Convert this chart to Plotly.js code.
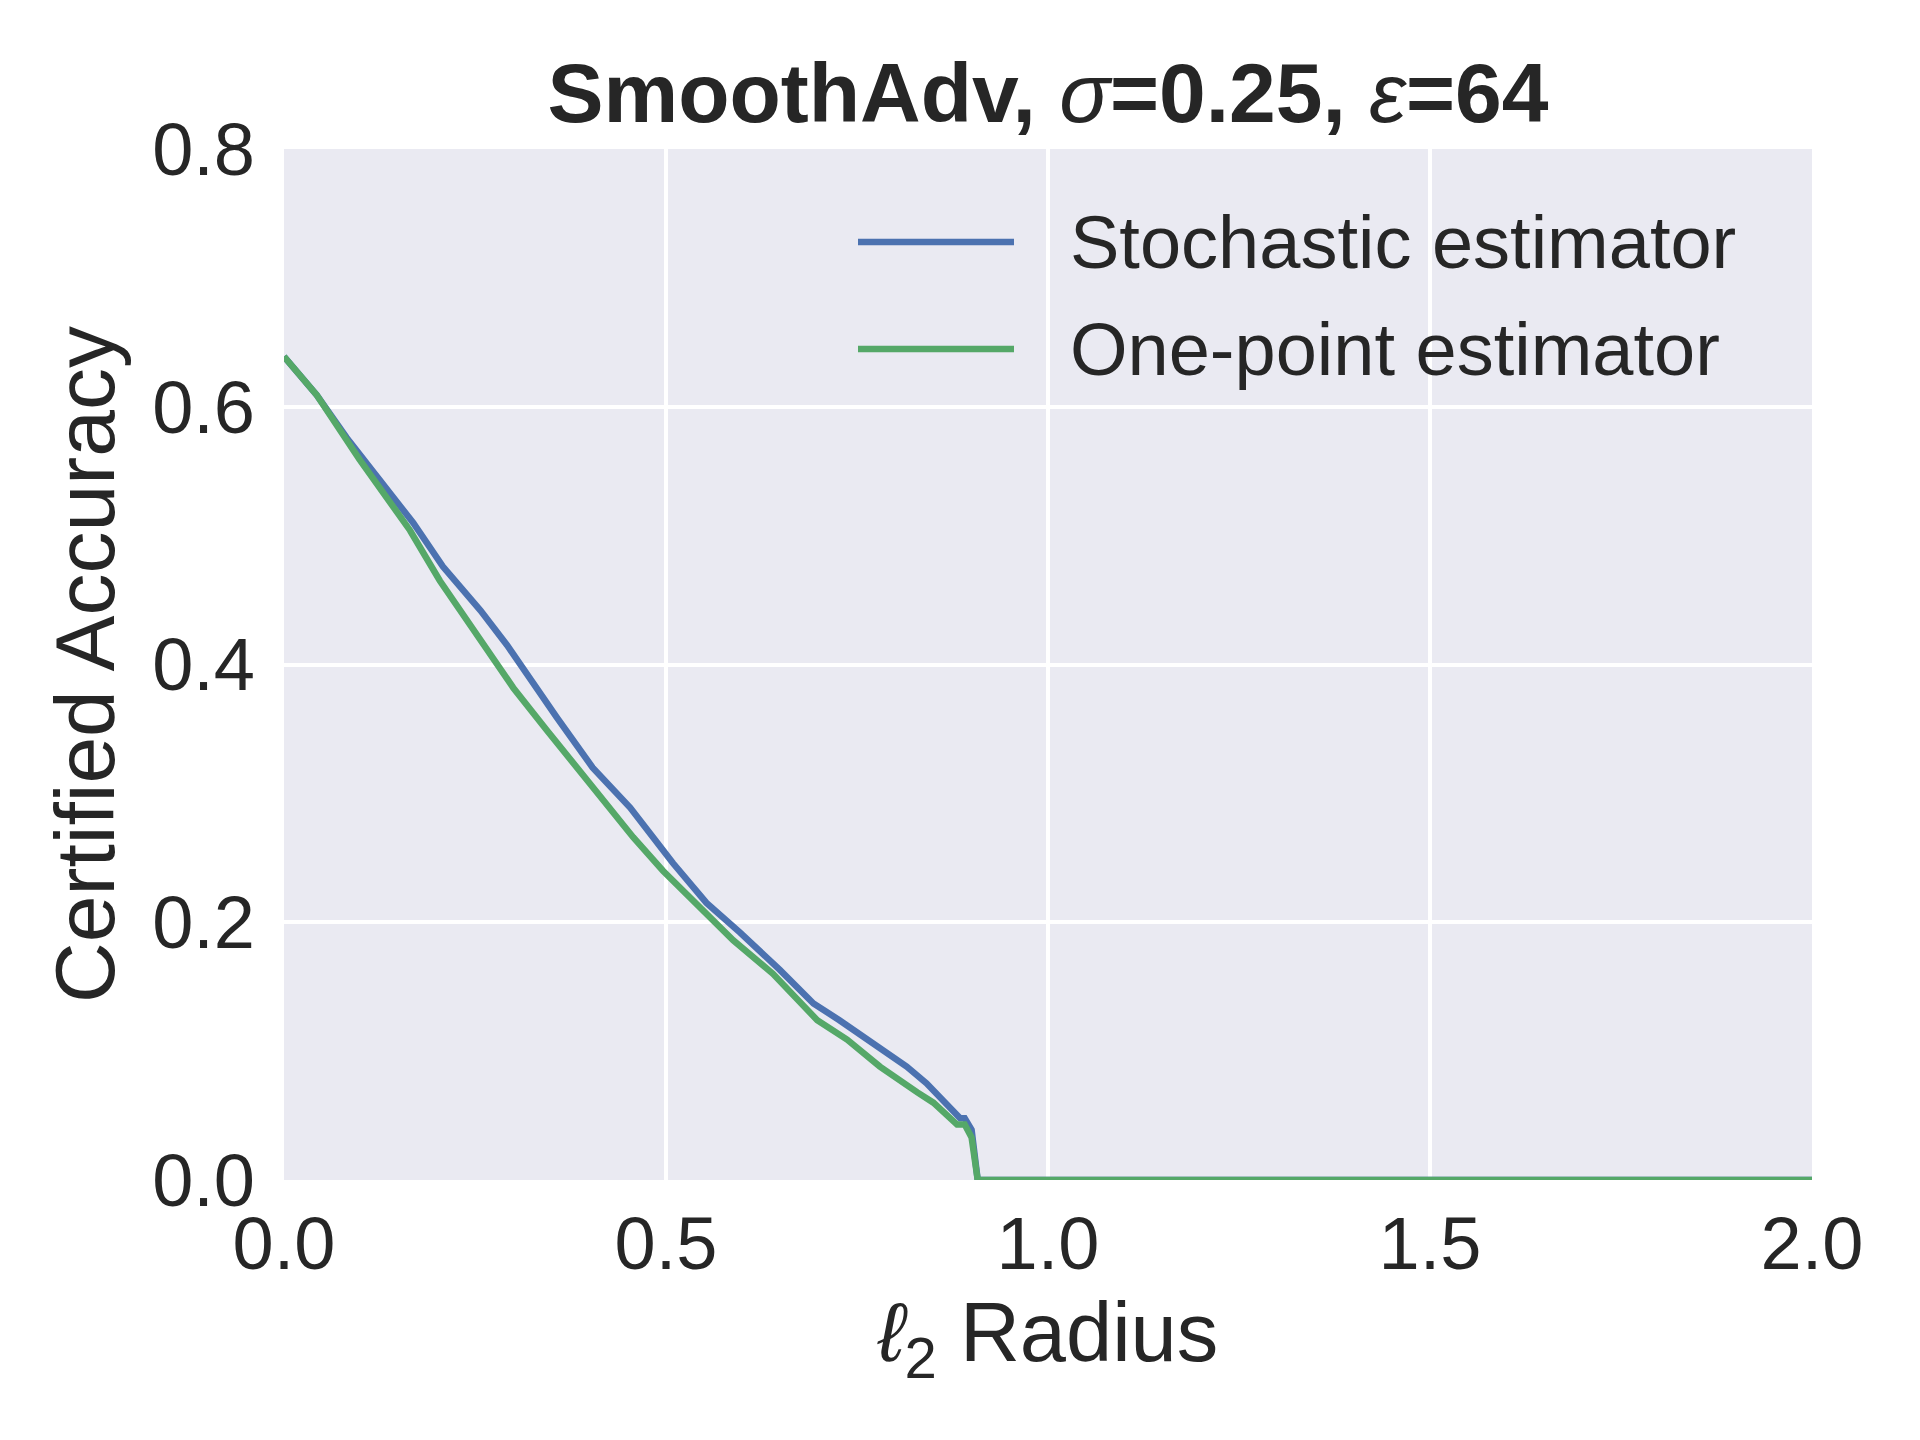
<!DOCTYPE html>
<html>
<head>
<meta charset="utf-8">
<script src="https://cdn.plot.ly/plotly-3.0.1.min.js"></script>
<style>
    body { margin: 0; background: #ffffff; }
    #chart { width: 1920px; height: 1440px; }
</style>
</head>
<body>
<div id="chart"></div>
<script>
// values
const stochName = "Stochastic estimator"
const stochRadius = [0, 0.043, 0.082, 0.108, 0.169, 0.208, 0.257, 0.292, 0.318, 0.357, 0.404, 0.453, 0.483,
    0.509, 0.553, 0.597, 0.649, 0.693, 0.727, 0.771, 0.815, 0.841, 0.867, 0.885, 0.891, 0.900, 0.908, 2.0]
const stochAcc = [0.639, 0.609, 0.576, 0.556, 0.510, 0.476, 0.442, 0.415, 0.392, 0.359, 0.320, 0.289, 0.266,
    0.246, 0.215, 0.192, 0.163, 0.137, 0.124, 0.106, 0.088, 0.075, 0.058, 0.048, 0.048, 0.039, 0, 0]

const onePointName = "One-point estimator"
const onePointRadius = [0, 0.043, 0.099, 0.165, 0.204, 0.257, 0.300, 0.344, 0.397, 0.427, 0.457, 0.496,
    0.553, 0.588, 0.640, 0.671, 0.698, 0.737, 0.780, 0.829, 0.850, 0.881, 0.891, 0.900, 0.908, 2.0]
const onePointAcc = [0.639, 0.609, 0.559, 0.504, 0.465, 0.419, 0.382, 0.349, 0.310, 0.287, 0.266, 0.240,
    0.207, 0.186, 0.160, 0.140, 0.124, 0.109, 0.088, 0.068, 0.060, 0.043, 0.043, 0.033, 0, 0]

const xTicks = [0, 0.5, 1.0, 1.5, 2.0]
const yTicks = [0, 0.2, 0.4, 0.6, 0.8]

const blue = "#4c72b0"
const green = "#55a868"
const textColor = "#262626"
const font = "'Liberation Sans', Arial, Helvetica, sans-serif"
const lineWidth = 6.5

// plot area in pixels, used for the hand-made legend
const plotLeft = 284, plotRight = 1812, plotTop = 149, plotBottom = 1180
const px = (x) => (x - plotLeft) / (plotRight - plotLeft)
const py = (y) => (plotBottom - y) / (plotBottom - plotTop)

let plotData = [
    {
        type: "scatter",
        mode: "lines",
        x: stochRadius,
        y: stochAcc,
        name: stochName,
        line: {color: blue, width: lineWidth}
    },
    {
        type: "scatter",
        mode: "lines",
        x: onePointRadius,
        y: onePointAcc,
        name: onePointName,
        line: {color: green, width: lineWidth}
    }
]

// legend drawn by hand so the line samples get the long matplotlib length
let legendShapes = []
let legendNotes = []
let legendRows = [[stochName, blue, 242], [onePointName, green, 349]]
for (let row of legendRows) {
    legendShapes.push({
        type: "line", xref: "paper", yref: "paper",
        x0: px(858), x1: px(1014), y0: py(row[2]), y1: py(row[2]),
        line: {color: row[1], width: lineWidth}
    })
    legendNotes.push({
        xref: "paper", yref: "paper", x: px(1068), y: py(row[2]),
        xanchor: "left", yanchor: "middle", showarrow: false,
        text: row[0], font: {size: 74, color: textColor, family: font}
    })
}

let plotLayout = {
    width: 1920,
    height: 1440,
    margin: {l: plotLeft, r: 1920 - plotRight, t: plotTop, b: 1440 - plotBottom},
    paper_bgcolor: "#ffffff",
    plot_bgcolor: "#eaeaf2",
    font: {family: font, color: textColor, size: 74},
    showlegend: false,
    title: {
        text: "<b>SmoothAdv, </b><i>σ</i><b>=0.25, </b><i>ε</i><b>=64</b>",
        font: {size: 84, color: textColor, family: font},
        x: 1048 / 1920,
        xanchor: "center",
        y: 1 - 93 / 1440,
        yanchor: "middle",
        yref: "container"
    },
    xaxis: {
        range: [0, 2],
        tickvals: xTicks,
        tickformat: ".1f",
        ticks: "",
        ticklabelstandoff: 14,
        showgrid: true,
        gridcolor: "#ffffff",
        gridwidth: 4,
        zeroline: false,
        showline: false,
        tickfont: {size: 74},
        title: {text: "<i>ℓ</i><sub>2</sub> Radius", font: {size: 83}, standoff: 18}
    },
    yaxis: {
        range: [0, 0.8],
        tickvals: yTicks,
        tickformat: ".1f",
        ticks: "",
        ticklabelstandoff: 28,
        showgrid: true,
        gridcolor: "#ffffff",
        gridwidth: 4,
        zeroline: false,
        showline: false,
        tickfont: {size: 74},
        title: {text: "Certified Accuracy", font: {size: 84}, standoff: 9}
    },
    shapes: legendShapes,
    annotations: legendNotes
}

let plotConfig = {staticPlot: true, displayModeBar: false}

Plotly.newPlot("chart", plotData, plotLayout, plotConfig)
</script>
</body>
</html>
